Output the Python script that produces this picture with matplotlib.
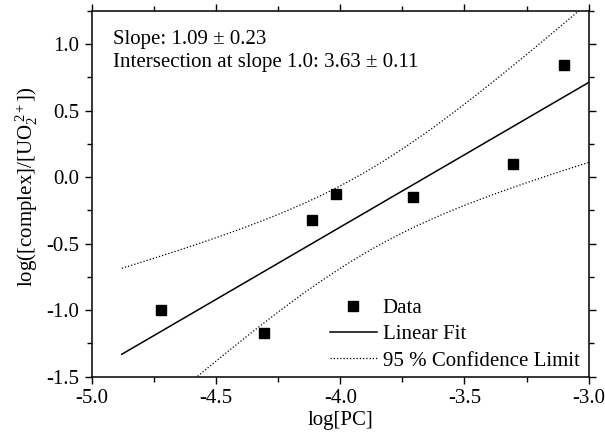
import numpy as np
import matplotlib
matplotlib.use("Agg")
import matplotlib.pyplot as plt
from matplotlib.ticker import MultipleLocator

plt.rcParams["font.family"] = ["Liberation Serif", "DejaVu Serif"]
plt.rcParams["mathtext.fontset"] = "custom"
plt.rcParams["mathtext.rm"] = "Liberation Serif"
plt.rcParams["mathtext.it"] = "Liberation Serif:italic"

# Measured points
log_pc = [-4.72, -4.308, -4.113, -4.017, -3.707, -3.304, -3.10]
log_ratio = [-1.00, -1.175, -0.325, -0.125, -0.150, 0.100, 0.845]

# Range over which the fit and its confidence band are drawn
fit_start, fit_end = -4.88, -3.0
conf_t = 2.571  # Student t, 95 %, 5 degrees of freedom

x = np.array(log_pc)
y = np.array(log_ratio)
n = len(x)
slope, intercept = np.polyfit(x, y, 1)
resid = y - (slope * x + intercept)
s = np.sqrt(np.sum(resid ** 2) / (n - 2))
sxx = np.sum((x - x.mean()) ** 2)

xf = np.linspace(fit_start, fit_end, 200)
yf = slope * xf + intercept
half = conf_t * s * np.sqrt(1.0 / n + (xf - x.mean()) ** 2 / sxx)

fig = plt.figure(figsize=(6.05, 4.36), dpi=100)
ax = fig.add_axes([0.152, 0.136, 0.821, 0.839])

ax.plot(x, y, "s", color="black", ms=6.5, label="Data", zorder=3)
ax.plot(xf, yf, "-", color="black", lw=1.1, label="Linear Fit")
ax.plot(xf, yf + half, color="black", lw=0.9, ls=(0, (1, 1.6)),
        label="95 % Confidence Limit")
ax.plot(xf, yf - half, color="black", lw=0.9, ls=(0, (1, 1.6)))

ax.set_xlim(-5.0, -3.0)
ax.set_ylim(-1.5, 1.25)
ax.xaxis.set_major_locator(MultipleLocator(0.5))
ax.xaxis.set_minor_locator(MultipleLocator(0.25))
ax.yaxis.set_major_locator(MultipleLocator(0.5))
ax.yaxis.set_minor_locator(MultipleLocator(0.25))
ax.xaxis.set_major_formatter(plt.FuncFormatter(lambda v, p: f"{v:.1f}"))
ax.yaxis.set_major_formatter(plt.FuncFormatter(lambda v, p: f"{v:.1f}"))
ax.tick_params(which="both", direction="out", top=True, right=True,
               width=1.0, labelsize=15, colors="black")
ax.tick_params(which="major", length=5, pad=4)
ax.tick_params(which="minor", length=3.5)
for sp in ax.spines.values():
    sp.set_linewidth(1.1)

ax.set_xlabel("log[PC]", fontsize=15, labelpad=2)
ax.set_ylabel(r"log([complex]/[UO$_{2}^{\;2+}$])", fontsize=15, labelpad=2)
ax.yaxis.set_label_coords(-0.105, 0.52)

ax.text(0.042, 0.921, "Slope: 1.09 \u00b1 0.23", transform=ax.transAxes,
        fontsize=15, va="center", ha="left")
ax.text(0.042, 0.858, "Intersection at slope 1.0: 3.63 \u00b1 0.11",
        transform=ax.transAxes, fontsize=15, va="center", ha="left")

leg = ax.legend(loc="lower right", frameon=False, fontsize=15,
                handlelength=2.3, handletextpad=0.25, labelspacing=0.32,
                borderaxespad=0.0, borderpad=0.2,
                bbox_to_anchor=(0.99, 0.005))

fig.savefig("out.png", dpi=100)
